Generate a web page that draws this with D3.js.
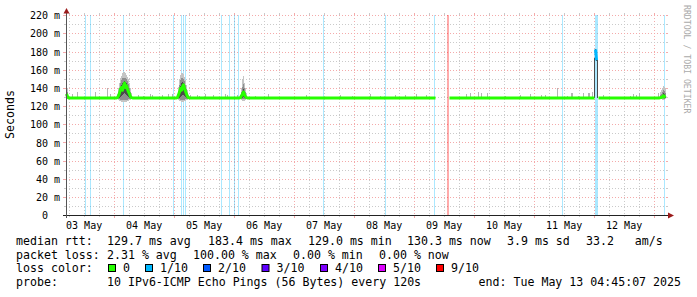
<!DOCTYPE html>
<html>
<head>
<meta charset="utf-8">
<script src="https://cdn.jsdelivr.net/npm/d3@7"></script>
<style>
html, body { margin: 0; padding: 0; background: #fff; }
svg { display: block; font-family: "DejaVu Sans Mono", monospace; }
text { white-space: pre; }
</style>
</head>
<body>
<svg id="chart" width="697" height="297"></svg>
<script>
// time is given in hours after 03 May 2025 00:00
const baseTime = new Date(2025, 4, 3, 0, 0, 0);
const startTime = new Date(2025, 4, 3, 4, 45, 7);
const endTime = new Date(2025, 4, 13, 4, 45, 7);

const yMajor = [0, 20, 40, 60, 80, 100, 120, 140, 160, 180, 200, 220];
const yMinor = [10, 30, 50, 70, 90, 110, 130, 150, 170, 190, 210];
const yLabels = ["0\u00a0\u00a0", "20 m", "40 m", "60 m", "80 m", "100 m", "120 m",
                 "140 m", "160 m", "180 m", "200 m", "220 m"];
const xLabelDays = [3, 4, 5, 6, 7, 8, 9, 10, 11, 12];
const xLabels = ["03 May", "04 May", "05 May", "06 May", "07 May", "08 May",
                 "09 May", "10 May", "11 May", "12 May"];

const lossLabels = ["0", "1/10", "2/10", "3/10", "4/10", "5/10", "9/10"];
const lossColors = ["#26ff00", "#00b8ff", "#0059ff", "#5e00ff", "#7e00ff", "#dd00ff", "#ff0000"];

// [hour, loss class]
const lossCols = [
  [12.4, 1], [14.4, 1], [27.6, 1], [47.6, 1], [50.8, 1], [51.6, 1], [52.4, 1],
  [66.8, 1], [70.0, 1], [72.0, 1], [73.6, 1], [107.6, 1], [132.4, 1], [152.0, 1],
  [157.2, 6], [157.6, 6], [203.2, 1],
  [216.4, 1], [216.8, 1], [217.2, 1], [244.0, 1]
];

// [hour, min, max, midLo, midHi, coreLo, coreHi] in ms
const smoke = [
  [5.2, 128, 141, 129, 136, 130, 133],
  [25.2, 128, 134, 129, 132, 129, 131], [25.6, 127, 140, 128, 136, 129, 133],
  [26.0, 126, 146, 128, 141, 130, 137], [26.4, 126, 151, 127, 146, 131, 141],
  [26.8, 125, 154, 127, 149, 132, 144], [27.2, 125, 157, 127, 151, 133, 146],
  [27.6, 125, 158, 127, 152, 134, 147], [28.0, 125, 158, 127, 152, 135, 148],
  [28.4, 125, 157, 127, 151, 134, 147], [28.8, 125, 155, 127, 150, 133, 146],
  [29.2, 126, 153, 127, 148, 132, 144], [29.6, 126, 150, 128, 145, 131, 141],
  [30.0, 127, 146, 128, 141, 130, 137], [30.4, 127, 141, 128, 136, 129, 134],
  [30.8, 128, 135, 129, 132, 129, 131],
  [49.2, 128, 134, 129, 132, 129, 131], [49.6, 127, 142, 128, 137, 129, 134],
  [50.0, 126, 150, 128, 144, 130, 139], [50.4, 126, 155, 127, 149, 131, 143],
  [50.8, 125, 157, 127, 151, 132, 146], [51.2, 125, 157, 127, 151, 133, 147],
  [51.6, 125, 156, 127, 150, 133, 146], [52.0, 126, 153, 127, 148, 132, 144],
  [52.4, 126, 149, 128, 144, 131, 140], [52.8, 127, 144, 128, 139, 130, 136],
  [53.2, 127, 138, 128, 134, 129, 132], [53.6, 128, 133, 129, 131, 129, 130],
  [74.4, 128, 133, 129, 131, 129, 130], [74.8, 127, 140, 128, 136, 129, 133],
  [75.2, 126, 150, 128, 142, 130, 137], [75.6, 126, 154, 128, 145, 131, 139],
  [76.0, 126, 146, 128, 140, 130, 136], [76.4, 127, 140, 128, 136, 129, 133],
  [76.8, 128, 135, 129, 132, 129, 131],
  [216.0, 130, 173, 130, 173, 130, 173], [216.4, 171, 183, 171, 183, 171, 183],
  [216.8, 170, 182, 170, 182, 170, 182], [217.2, 129, 171, 129, 171, 129, 171],
  [242.4, 128, 136, 129, 133, 129, 131], [242.8, 128, 138, 129, 134, 130, 132],
  [243.2, 127, 141, 129, 136, 130, 133], [243.6, 127, 143, 128, 138, 130, 135],
  [244.0, 127, 142, 128, 137, 130, 134], [244.4, 128, 140, 129, 135, 130, 132]
];

// [hour, max ms] single light ping spikes
const spikes = [
  [7.2, 134], [9.2, 136], [16.4, 136], [18.0, 132], [21.2, 141], [22.4, 134],
  [33.6, 133], [35.6, 132], [38.4, 134], [39.2, 132.5], [43.2, 133], [45.6, 134],
  [47.2, 134], [54.4, 133], [57.2, 133], [58.0, 132], [60.4, 134], [63.6, 133],
  [65.2, 131], [68.4, 134], [69.2, 133], [73.2, 133], [80.4, 132], [85.6, 134],
  [100.8, 133], [114.4, 133], [119.2, 132], [126.4, 134], [130.4, 132], [136.4, 133],
  [140.4, 133], [144.8, 134], [148.8, 133], [164.8, 134], [166.4, 135], [169.6, 136],
  [170.8, 135], [173.2, 135], [180.4, 132], [186.4, 133], [190.4, 134], [194.8, 132.5],
  [196.4, 132.5], [201.2, 140], [205.2, 132], [206.8, 135.5], [207.2, 135.5], [209.6, 132],
  [211.6, 134.5], [213.6, 134.7], [214.0, 134.7], [215.2, 135.7], [219.6, 132.5],
  [230.4, 132], [231.6, 134], [232.8, 133], [234.0, 134.5], [241.6, 135]
];

// [hour, median ms, loss class]; null = no data
const median = [
  [4.8, 134, 0], [5.2, 131, 0], [5.6, 129.5, 0], [24.8, 129.5, 0],
  [25.2, 130, 0], [25.6, 132, 0], [26.0, 135, 0], [26.4, 139, 0], [26.8, 141, 0],
  [27.2, 138, 0], [27.6, 143, 0], [28.0, 146, 0], [28.4, 141, 0], [28.8, 143, 0],
  [29.2, 139, 0], [29.6, 136, 0], [30.0, 134, 0], [30.4, 131, 0], [30.8, 130, 0],
  [31.2, 129.5, 0], [48.8, 129.5, 0],
  [49.2, 130, 0], [49.6, 133, 0], [50.0, 136, 0], [50.4, 140, 0], [50.8, 138, 0],
  [51.2, 142, 0], [51.6, 144, 0], [52.0, 140, 0], [52.4, 137, 0], [52.8, 134, 0],
  [53.2, 131, 0], [53.6, 130, 0], [54.0, 129.5, 0], [74.0, 129.5, 0],
  [74.4, 130, 0], [74.8, 132, 0], [75.2, 134, 0], [75.6, 136, 0], [76.0, 133, 0],
  [76.4, 131, 0], [76.8, 130, 0], [77.2, 129.5, 0],
  [152.4, 129.5, 0], [152.8, null], [157.6, null], [158.0, 129.5, 0],
  [215.6, 129.5, 0], [216.0, 129.5, 0], [216.4, 183, 1], [216.8, 171, 1],
  [217.2, null], [217.6, 129.5, 0], [242.0, 129.5, 0],
  [242.4, 130, 0], [242.8, 130, 0], [243.2, 131, 0], [243.6, 132, 0],
  [244.0, 131, 0], [244.4, 130, 0]
];

const rttItems = ["median rtt:", "129.7 ms avg", "183.4 ms max", "129.0 ms min",
                  "130.3 ms now", "3.9 ms sd", "33.2   am/s"];
const lossItems = ["packet loss:", "2.31 % avg", "100.00 % max", "0.00 % min", "0.00 % now"];
const probeItems = ["probe:", "10 IPv6-ICMP Echo Pings (56 Bytes) every 120s"];
const endText = "end: Tue May 13 04:45:07 2025";

// layout
const rttX = [16, 107, 208, 308, 407, 507, 586];
const lossX = [16, 107, 193, 293, 379];
const boxX = [108, 145, 203, 261.5, 320, 378, 436];
const lineY = [245, 258.7, 272.4, 286.1];

const hd = h => new Date(+baseTime + h * 3600e3);
const svg = d3.select("#chart");
const x = d3.scaleTime().domain([startTime, endTime]).range([66, 666]);
const y = d3.scaleLinear().domain([0, 220]).range([215.7, 15.7]);
const px = v => Math.floor(v) + 0.5;
const plotTop = 15, plotBottom = 215;
const gridColor = "#cacaca", mgridColor = "#f4aaaa";

// grid
const grid = svg.append("g");
const dayTicks = x.ticks(d3.timeDay);
const hourTicks = x.ticks(d3.timeHour.every(6)).filter(d => d.getHours() !== 0);
[[hourTicks, gridColor, 2], [dayTicks, mgridColor, 3]].forEach(([ticks, col, len]) => {
  grid.selectAll(null).data(ticks).enter().append("line")
    .attr("x1", d => px(x(d))).attr("x2", d => px(x(d)))
    .attr("y1", plotTop).attr("y2", plotBottom)
    .attr("stroke", col).attr("stroke-dasharray", "1,2");
  grid.selectAll(null).data(ticks).enter().append("line")
    .attr("x1", d => px(x(d))).attr("x2", d => px(x(d)))
    .attr("y1", plotBottom).attr("y2", plotBottom + len)
    .attr("stroke", col);
  grid.selectAll(null).data(ticks).enter().append("line")
    .attr("x1", d => px(x(d))).attr("x2", d => px(x(d)))
    .attr("y1", plotTop - 2).attr("y2", plotTop)
    .attr("stroke", col);
});
[[yMinor, gridColor, 2], [yMajor.filter(v => v > 0), mgridColor, 3]].forEach(([ticks, col, len]) => {
  grid.selectAll(null).data(ticks).enter().append("line")
    .attr("x1", 66).attr("x2", 666)
    .attr("y1", d => px(y(d))).attr("y2", d => px(y(d)))
    .attr("stroke", col).attr("stroke-dasharray", "1,2");
  grid.selectAll(null).data(ticks).enter().append("line")
    .attr("x1", 66 - len).attr("x2", 66)
    .attr("y1", d => px(y(d))).attr("y2", d => px(y(d)))
    .attr("stroke", col);
  grid.selectAll(null).data(ticks).enter().append("line")
    .attr("x1", 666).attr("x2", 668)
    .attr("y1", d => px(y(d))).attr("y2", d => px(y(d)))
    .attr("stroke", col);
});

// loss background columns
svg.append("g").selectAll("rect").data(lossCols).enter().append("rect")
  .attr("x", d => Math.floor(x(hd(d[0])))).attr("width", 1)
  .attr("y", plotTop).attr("height", plotBottom - plotTop)
  .attr("fill", d => lossColors[d[1]]).attr("fill-opacity", 0.33);

// smoke
const colRect = (g, data, lo, hi, fill) => g.selectAll(null).data(data).enter().append("rect")
  .attr("x", d => Math.floor(x(hd(d[0])))).attr("width", 1)
  .attr("y", d => y(d[hi])).attr("height", d => y(d[lo]) - y(d[hi]))
  .attr("fill", fill);
const sm = svg.append("g").attr("shape-rendering", "crispEdges");
colRect(sm, spikes.map(d => [d[0], 128.5, d[1]]), 1, 2, "#b4b4b4");
colRect(sm, smoke, 1, 2, "#c4c4c4");
colRect(sm, smoke, 3, 4, "#8e8e8e");
colRect(sm, smoke, 5, 6, "#4a4a4a");

// median line per loss class
[0, 1].forEach(k => {
  const line = d3.line()
    .defined(d => d[1] != null && d[2] === k)
    .x(d => px(x(hd(d[0])))).y(d => y(d[1]));
  svg.append("path").datum(median).attr("d", line)
    .attr("fill", "none").attr("stroke", lossColors[k])
    .attr("stroke-width", 3).attr("stroke-linejoin", "round");
});

// axes
const arrowCol = "#9b1b1b";
svg.append("line").attr("x1", 63).attr("x2", 669).attr("y1", 215.5).attr("y2", 215.5).attr("stroke", "#222");
svg.append("line").attr("x1", 66.5).attr("x2", 66.5).attr("y1", 218).attr("y2", 13).attr("stroke", "#555");
svg.append("path").attr("d", "M668,212.5L674,215.5L668,218.5Z").attr("fill", arrowCol);
svg.append("path").attr("d", "M63.5,13.5L66.5,8L69.5,13.5Z").attr("fill", arrowCol);

// axis labels
svg.append("g").selectAll("text").data(yMajor).enter().append("text")
  .attr("x", 60).attr("y", d => y(d)).attr("dy", "0.36em")
  .attr("text-anchor", "end").attr("font-size", 10)
  .text((d, i) => yLabels[i]);
svg.append("g").selectAll("text").data(xLabelDays).enter().append("text")
  .attr("x", d => x(new Date(2025, 4, d, 12))).attr("y", 228.5)
  .attr("text-anchor", "middle").attr("font-size", 10)
  .text((d, i) => xLabels[i]);

svg.append("text").attr("transform", "translate(10,114.5) rotate(-90)")
  .attr("text-anchor", "middle").attr("dy", "0.36em").attr("font-size", 11.6)
  .text("Seconds");
svg.append("text").attr("transform", "translate(687,5) rotate(90)")
  .attr("dy", "0.36em").attr("font-size", 8.2).attr("fill", "#aaa")
  .text("RRDTOOL / TOBI OETIKER");

// legend
const leg = svg.append("g").attr("font-size", 11.6).attr("fill", "#000");
rttItems.forEach((t, i) => leg.append("text").attr("x", rttX[i]).attr("y", lineY[0]).text(t));
lossItems.forEach((t, i) => leg.append("text").attr("x", lossX[i]).attr("y", lineY[1]).text(t));
leg.append("text").attr("x", 16).attr("y", lineY[2]).text("loss color:");
lossLabels.forEach((t, i) => {
  leg.append("rect").attr("x", boxX[i] + 0.5).attr("y", lineY[2] - 7.9).attr("width", 7).attr("height", 7)
    .attr("fill", lossColors[i]).attr("stroke", "#000");
  leg.append("text").attr("x", boxX[i] + 15).attr("y", lineY[2]).text(t);
});
probeItems.forEach((t, i) => leg.append("text").attr("x", [16, 107][i]).attr("y", lineY[3]).text(t));
leg.append("text").attr("x", 681).attr("y", lineY[3]).attr("text-anchor", "end").text(endText);
</script>
</body>
</html>
